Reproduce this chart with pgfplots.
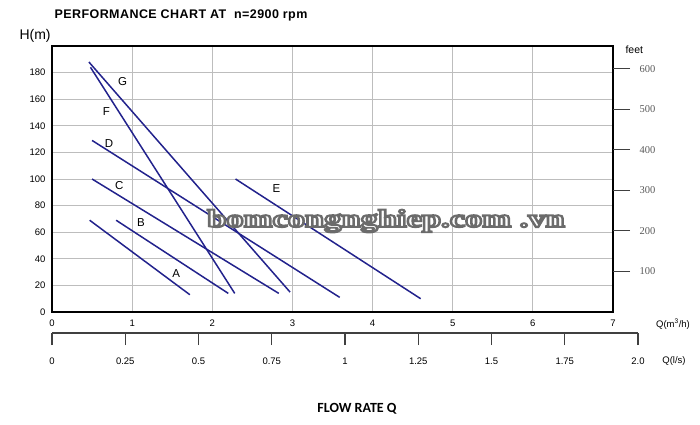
\documentclass[border=0pt]{standalone}
\usepackage{fontspec}
\setmainfont{Liberation Sans}
\newfontfamily\serifnum{Liberation Serif}
\newfontfamily\calib{Carlito}
\usepackage{pgfplots}
\pgfplotsset{compat=1.18}

\definecolor{curve}{HTML}{22228C}
\definecolor{gridc}{HTML}{BDBDBD}

% outlined text: white fill with a gray stroke round it
\newcommand{\outlined}[1]{\special{pdf:code q 2 Tr 1.9 w 0.42 0.42 0.42 RG 1 1 1 rg}#1\special{pdf:code Q}}

\begin{document}
\begin{tikzpicture}
\useasboundingbox (0,0) rectangle (700pt,-424pt);

% main chart, H(m) against Q(m3/h)
\begin{axis}[
    at={(52pt,-312pt)}, anchor=south west,
    scale only axis, width=561pt, height=266pt,
    xmin=0, xmax=7, ymin=0, ymax=200,
    xtick={0,...,7}, ytick={0,20,...,180},
    grid=major,
    major grid style={gridc, line width=0.9pt},
    axis line style={black, line width=1.6pt},
    major tick length=0pt,
    /pgf/number format/assume math mode=true,
    tick label style={font=\fontsize{9.5}{10}\selectfont},
    xticklabel style={yshift=-4pt},
    yticklabel style={xshift=-3pt},
    clip=false,
]
\addplot[curve, line width=1.5pt] coordinates {(0.47,69) (1.72,13)};
\addplot[curve, line width=1.5pt] coordinates {(0.80,69) (2.20,14)};
\addplot[curve, line width=1.5pt] coordinates {(0.50,100) (2.83,14)};
\addplot[curve, line width=1.5pt] coordinates {(0.50,129) (3.59,11)};
\addplot[curve, line width=1.5pt] coordinates {(2.29,100) (4.60,10)};
\addplot[curve, line width=1.5pt] coordinates {(0.48,184) (2.28,14)};
\addplot[curve, line width=1.5pt] coordinates {(0.46,188) (2.97,15)};

\begin{scope}[font=\fontsize{11.5}{12}\selectfont]
\node at (axis cs:1.55,29) {A};
\node at (axis cs:1.11,67) {B};
\node at (axis cs:0.84,95) {C};
\node at (axis cs:0.71,127) {D};
\node at (axis cs:2.80,93) {E};
\node at (axis cs:0.68,151) {F};
\node at (axis cs:0.88,173) {G};
\end{scope}
\end{axis}

% right scale in feet
\begin{axis}[
    at={(52pt,-312pt)}, anchor=south west,
    scale only axis, width=561pt, height=266pt,
    xmin=0, xmax=7, ymin=0, ymax=656.17,
    hide x axis,
    axis y line*=right,
    y axis line style={draw=none},
    ytick={100,200,...,600},
    tick align=outside,
    major tick length=17pt,
    tick style={black!75, line width=1pt},
    /pgf/number format/assume math mode=true,
    yticklabel style={font=\serifnum\fontsize{10.5}{11}\selectfont, text=black!65, xshift=6pt},
]
\addplot[draw=none] coordinates {(0,0) (7,600)};
\end{axis}

% lower scale in l/s
\begin{axis}[
    at={(52pt,-333pt)}, anchor=south west,
    scale only axis, width=586pt, height=10pt,
    xmin=0, xmax=2, ymin=0, ymax=1,
    hide y axis,
    axis x line*=bottom,
    x axis line style={black!75, line width=1.3pt},
    tick align=outside,
    major tick length=12pt,
    tick style={black!75, line width=1.3pt},
    xtick={0,0.25,0.5,0.75,1,1.25,1.5,1.75,2},
    xticklabels={0,0.25,0.5,0.75,1,1.25,1.5,1.75,2.0},
    /pgf/number format/assume math mode=true,
    xticklabel style={font=\fontsize{9.5}{10}\selectfont, yshift=-9pt},
]
\addplot[draw=none] coordinates {(0,0) (2,1)};
\end{axis}

% titles and unit labels
\node[anchor=west, font=\bfseries\fontsize{12.5}{13}\selectfont\addfontfeatures{LetterSpace=3.5}] at (51pt,-15pt) {PERFORMANCE CHART AT\ \ n=2900 rpm};
\node[anchor=west, font=\fontsize{14}{15}\selectfont] at (16pt,-35.5pt) {H(m)};
\node[anchor=west, font=\fontsize{10.5}{11}\selectfont] at (622pt,-50pt) {feet};
\node[font=\fontsize{9.5}{10}\selectfont] at (673pt,-324pt) {Q(m\textsuperscript{3}/h)};
\node[font=\fontsize{9.5}{10}\selectfont] at (674pt,-361pt) {Q(l/s)};
\node[font=\calib\bfseries\fontsize{14}{15}\selectfont] at (357pt,-409pt) {FLOW RATE Q};

% watermark
\node[xscale=1.38, font=\serifnum\bfseries\fontsize{25}{26}\selectfont]
  at (386pt,-221pt) {\outlined{bomcongnghiep.com .vn}};
\end{tikzpicture}
\end{document}
